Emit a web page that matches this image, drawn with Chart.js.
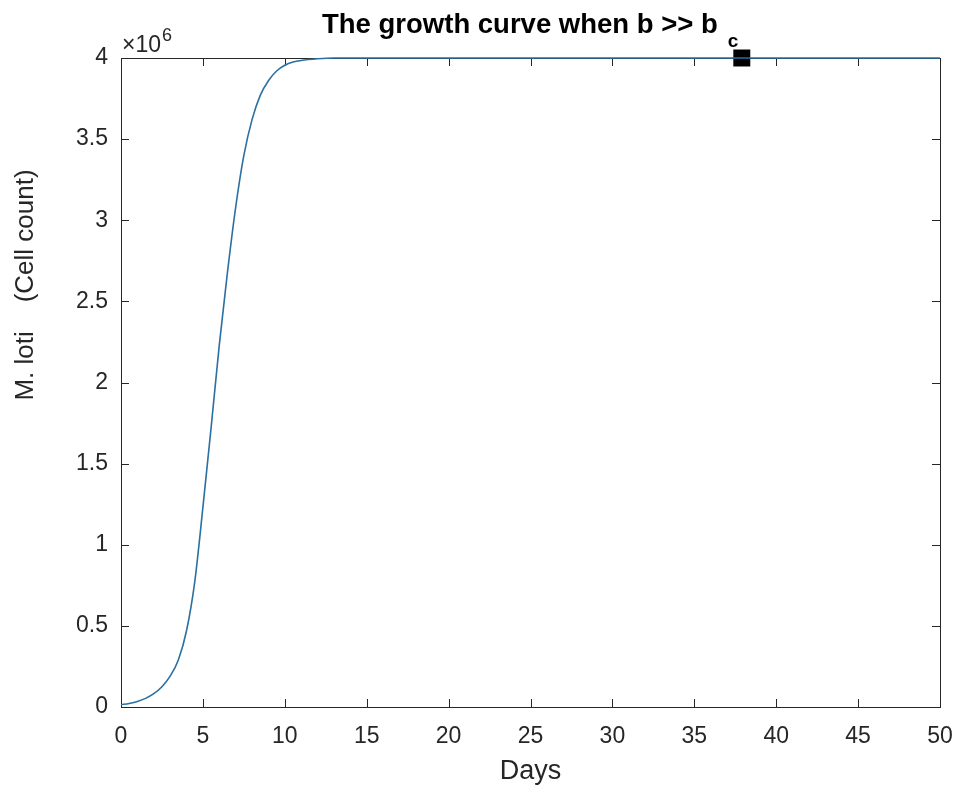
<!DOCTYPE html>
<html lang="en">
<head>
    <meta charset="UTF-8">
    <title>Growth curve</title>
    <script src="https://cdn.jsdelivr.net/npm/chart.js"></script>
    <style>
        body { margin: 0; background: #fff; }
        canvas { display: block; }
    </style>
</head>
<body>
    <canvas id="growthChart" width="958" height="789"></canvas>

    <script>
        // days and cell counts (x 10^6)
        const days = [0, 0.5, 1, 1.5, 2, 2.5, 3, 3.5, 4, 4.5, 5, 5.5, 6, 6.5, 7, 7.5, 8, 8.5, 9, 9.5, 10, 10.5, 11, 12, 13, 15, 20, 30, 40, 50];
        const cellsMillions = [0.014, 0.022, 0.034, 0.053, 0.082, 0.125, 0.19, 0.29, 0.47, 0.77, 1.23, 1.72, 2.23, 2.68, 3.08, 3.40, 3.62, 3.77, 3.86, 3.92, 3.955, 3.975, 3.985, 3.995, 4.0, 4.0, 4.0, 4.0, 4.0, 4.0];

        // square marker
        const markerDay = [37.9];
        const markerMillions = [4.0];

        const xTicks = [0, 5, 10, 15, 20, 25, 30, 35, 40, 45, 50];
        const yTickStep = 0.5e6;
        const yMax = 4e6;

        const textColor = '#262626';
        const fontFamily = '"Liberation Sans", Arial, Helvetica, sans-serif';

        const curve = days.map((d, i) => ({ x: d, y: cellsMillions[i] * 1e6 }));
        const marker = markerDay.map((d, i) => ({ x: d, y: markerMillions[i] * 1e6 }));

        // box around the axes with inward ticks on all four sides
        const axesBox = {
            id: 'axesBox',
            beforeDatasetsDraw(chart) {
                const { ctx, chartArea: a, scales } = chart;
                const len = 8;
                ctx.save();
                ctx.strokeStyle = textColor;
                ctx.lineWidth = 1;
                ctx.strokeRect(a.left + 0.5, a.top + 0.5, a.right - a.left, a.bottom - a.top);
                ctx.beginPath();
                scales.x.ticks.forEach(t => {
                    const px = Math.round(scales.x.getPixelForValue(t.value)) + 0.5;
                    ctx.moveTo(px, a.bottom); ctx.lineTo(px, a.bottom - len);
                    ctx.moveTo(px, a.top); ctx.lineTo(px, a.top + len);
                });
                scales.y.ticks.forEach(t => {
                    const py = Math.round(scales.y.getPixelForValue(t.value)) + 0.5;
                    ctx.moveTo(a.left, py); ctx.lineTo(a.left + len, py);
                    ctx.moveTo(a.right, py); ctx.lineTo(a.right - len, py);
                });
                ctx.stroke();
                ctx.restore();
            },
            afterDraw(chart) {
                const { ctx, chartArea: a } = chart;
                ctx.save();

                // title with subscript c
                const main = 'The growth curve when b >> b';
                ctx.font = 'bold 27.5px ' + fontFamily;
                const w = ctx.measureText(main).width;
                ctx.textBaseline = 'alphabetic';
                ctx.textAlign = 'left';
                const tx = 322;
                ctx.fillStyle = '#000';
                ctx.fillText(main, tx, 33);
                ctx.font = 'bold 19px ' + fontFamily;
                ctx.fillText('c', tx + w + 10, 47);

                // exponent above the y axis
                ctx.fillStyle = textColor;
                ctx.font = '23px ' + fontFamily;
                ctx.fillText('\u00d710', a.left + 1, 52);
                const ew = ctx.measureText('\u00d710').width;
                ctx.font = '18px ' + fontFamily;
                ctx.fillText('6', a.left + 2 + ew, 41);

                // axis labels
                ctx.font = '27px ' + fontFamily;
                ctx.textAlign = 'center';
                ctx.textBaseline = 'middle';
                ctx.fillText('Days', (a.left + a.right) / 2, 772);

                ctx.font = '26px ' + fontFamily;
                ctx.translate(26, 285);
                ctx.rotate(-Math.PI / 2);
                ctx.fillText('M. loti    (Cell count)', 0, 0);
                ctx.restore();
            }
        };

        new Chart(document.getElementById('growthChart'), {
            type: 'line',
            data: {
                datasets: [
                    {
                        label: 'M. loti',
                        data: curve,
                        borderColor: '#2a70a0',
                        borderWidth: 1.6,
                        pointRadius: 0,
                        fill: false,
                        cubicInterpolationMode: 'monotone',
                        clip: 4
                    },
                    {
                        label: 'marker',
                        data: marker,
                        showLine: false,
                        pointStyle: 'rect',
                        pointRadius: 12,
                        pointBackgroundColor: '#000',
                        pointBorderColor: '#000',
                        pointBorderWidth: 0,
                        clip: false
                    }
                ]
            },
            options: {
                responsive: false,
                animation: false,
                events: [],
                layout: { padding: { left: 0, right: 18, top: 58, bottom: 0 } },
                plugins: {
                    legend: { display: false },
                    tooltip: { enabled: false }
                },
                scales: {
                    x: {
                        type: 'linear',
                        min: 0,
                        max: 50,
                        grid: { display: false, drawTicks: false },
                        border: { display: false },
                        afterBuildTicks: scale => { scale.ticks = xTicks.map(v => ({ value: v })); },
                        afterFit: scale => {
                            scale.height = 82;
                            scale.paddingLeft = 0;
                            scale.paddingRight = 0;
                        },
                        ticks: {
                            color: textColor,
                            font: { family: fontFamily, size: 23 },
                            padding: 16,
                            maxRotation: 0,
                            autoSkip: false
                        }
                    },
                    y: {
                        type: 'linear',
                        min: 0,
                        max: yMax,
                        grid: { display: false, drawTicks: false },
                        border: { display: false },
                        afterFit: scale => {
                            scale.width = 121;
                            scale.paddingTop = 0;
                            scale.paddingBottom = 0;
                        },
                        ticks: {
                            stepSize: yTickStep,
                            color: textColor,
                            font: { family: fontFamily, size: 23 },
                            padding: 13,
                            callback: v => String(v / 1e6)
                        }
                    }
                }
            },
            plugins: [axesBox]
        });
    </script>
</body>
</html>
